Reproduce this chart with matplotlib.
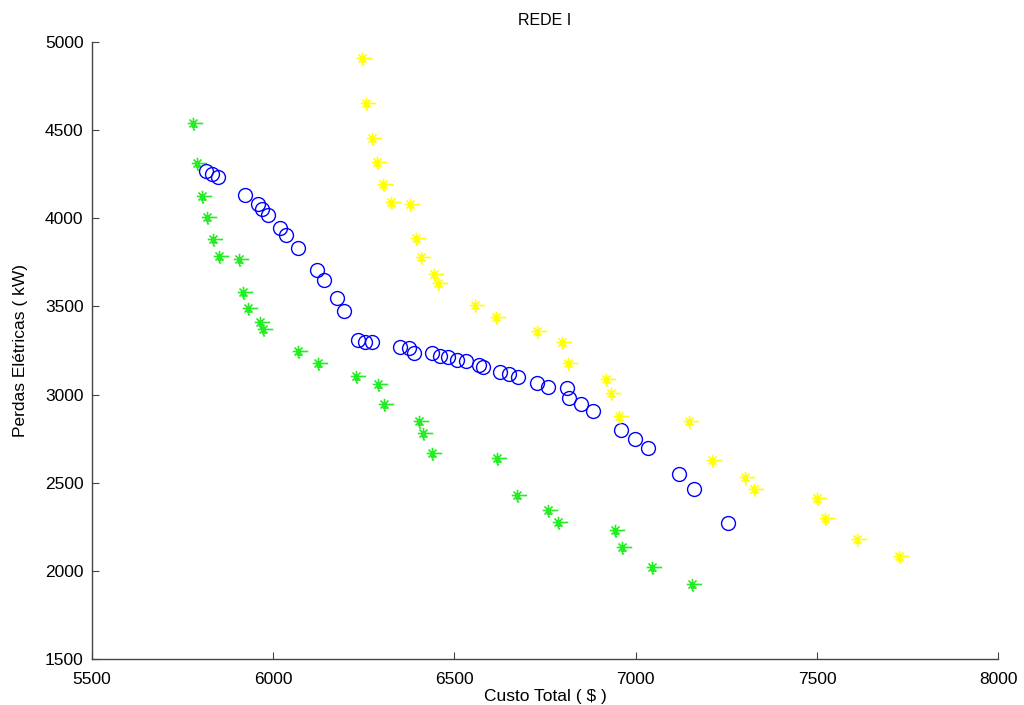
import numpy as np
import matplotlib
matplotlib.use("Agg")
import matplotlib.pyplot as plt
from matplotlib.path import Path

# custo total ($) x perdas (kW)
verde_x = [5779, 5790, 5804, 5817, 5834, 5850, 5906, 5917, 5930, 5964, 5972, 6068, 6124, 6228,
           6289, 6306, 6402, 6413, 6438, 6618, 6673, 6758, 6786, 6943, 6962, 7045, 7156]
verde_y = [4541, 4314, 4127, 4007, 3883, 3786, 3769, 3582, 3491, 3412, 3372, 3247, 3179, 3105,
           3060, 2947, 2850, 2782, 2669, 2640, 2430, 2345, 2277, 2232, 2135, 2022, 1925]

azul_x = [5815, 5831, 5848, 5922, 5958, 5969, 5986, 6019, 6035, 6068, 6121, 6140, 6176, 6195,
          6234, 6253, 6273, 6350, 6375, 6389, 6438, 6460, 6482, 6507, 6532, 6568, 6579, 6626,
          6651, 6676, 6728, 6758, 6811, 6816, 6849, 6882, 6960, 6998, 7034, 7120, 7161, 7255]
azul_y = [4268, 4251, 4234, 4132, 4081, 4053, 4019, 3945, 3905, 3832, 3707, 3650, 3548, 3474,
          3310, 3298, 3298, 3270, 3264, 3236, 3236, 3219, 3213, 3196, 3191, 3168, 3157, 3128,
          3117, 3100, 3066, 3043, 3037, 2981, 2947, 2907, 2799, 2748, 2697, 2550, 2464, 2272]

amarelo_x = [6245, 6256, 6273, 6286, 6303, 6325, 6377, 6394, 6408, 6444, 6455, 6557, 6615, 6728,
             6797, 6813, 6918, 6932, 6954, 7147, 7211, 7302, 7327, 7501, 7523, 7611, 7727]
amarelo_y = [4909, 4654, 4456, 4320, 4195, 4093, 4081, 3888, 3781, 3684, 3633, 3508, 3440, 3361,
             3298, 3179, 3088, 3009, 2879, 2850, 2629, 2532, 2464, 2413, 2300, 2181, 2084]

# asterisco com o "rabo" para a direita, como sai no matlab
verts = [(0, -1), (0, 1), (-1, 0), (1.7, 0), (-0.7, -0.7), (0.7, 0.7),
         (-0.7, 0.7), (0.7, -0.7), (-0.3, -0.6), (0.6, -0.6), (-0.1, -1.1), (0.3, -1.1)]
codes = [Path.MOVETO, Path.LINETO] * 6
estrela = Path(verts, codes)

plt.rcParams['font.family'] = ['Liberation Sans', 'DejaVu Sans']

fig = plt.figure(figsize=(10.24, 7.05), dpi=100)
ax = fig.add_axes([0.0898, 0.0652, 0.885, 0.8752])

ax.plot(verde_x, verde_y, linestyle='none', marker=estrela, markersize=14,
        markeredgecolor='#22ee22', markerfacecolor='none', markeredgewidth=1.2)
ax.plot(azul_x, azul_y, linestyle='none', marker='o', markersize=10,
        markeredgecolor='#0000ff', markerfacecolor='none', markeredgewidth=1.0)
ax.plot(amarelo_x, amarelo_y, linestyle='none', marker=estrela, markersize=14,
        markeredgecolor='#ffff00', markerfacecolor='none', markeredgewidth=1.2)

ax.set_xlim(5500, 8000)
ax.set_ylim(1500, 5000)
ax.set_xticks([5500, 6000, 6500, 7000, 7500, 8000])
ax.set_yticks([1500, 2000, 2500, 3000, 3500, 4000, 4500, 5000])

for s in ['top', 'right']:
    ax.spines[s].set_visible(False)
for s in ['left', 'bottom']:
    ax.spines[s].set_color('#444444')
    ax.spines[s].set_linewidth(1.0)

ax.tick_params(direction='in', length=5, width=0.8, color='#444444', labelsize=12.5)
ax.tick_params(axis='x', pad=9)
ax.tick_params(axis='y', pad=6)

ax.set_xlabel('Custo Total ( $ )', fontsize=12.5, labelpad=2)
ax.set_ylabel('Perdas Elétricas ( kW)', fontsize=12.5, labelpad=12)
ax.set_title('REDE I', fontsize=11.5, pad=12)

fig.savefig('out.png', dpi=100)
